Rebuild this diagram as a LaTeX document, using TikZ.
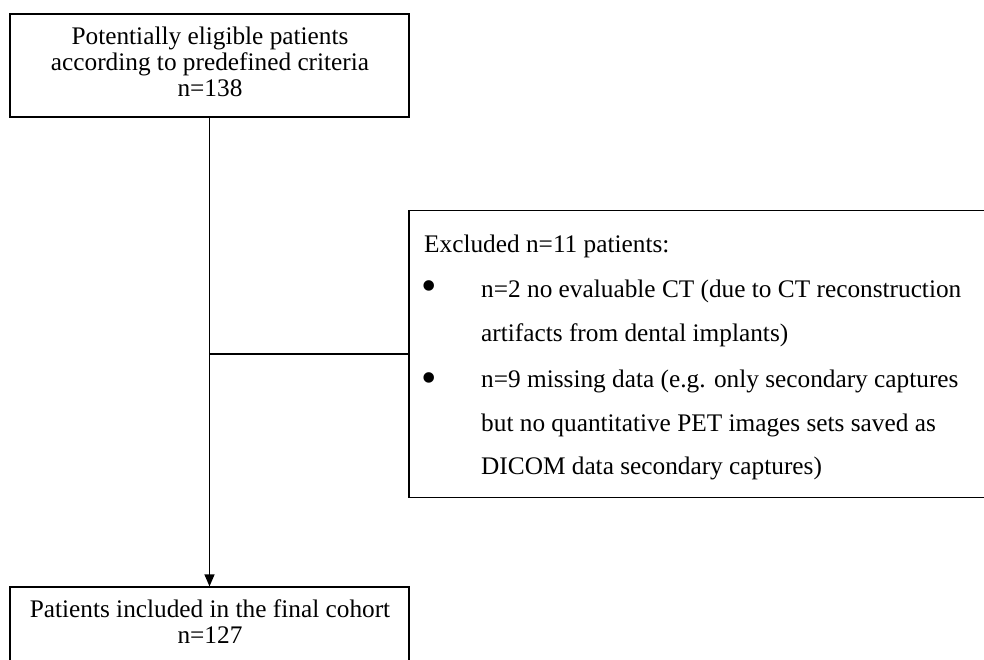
\documentclass[tikz,border=0pt]{standalone}
\usepackage{fontspec}
\setmainfont{Liberation Serif}
\usetikzlibrary{arrows.meta}
\tikzset{
  box/.style={draw=black, line width=1.2pt, fill=none, inner sep=0pt},
  txt/.style={inner sep=0pt, font=\fontsize{25.3}{30}\selectfont},
  dot/.style={inner sep=0pt, font=\fontsize{44}{44}\selectfont},
  conn/.style={draw=black, line width=1.2pt},
}
\begin{document}
\begin{tikzpicture}[x=1pt,y=-1pt]
\useasboundingbox (0,0) rectangle (984,660);
% boxes
\node[box, minimum width=399pt, minimum height=103pt] (top) at (209.5,65.5) {};
\node[box, minimum width=581pt, minimum height=287pt] (excl) at (699.5,354) {};
\node[box, minimum width=399pt, minimum height=83pt] (bot) at (209.5,628.5) {};
% top text
\node[txt, anchor=base] (t1) at (210,45) {Potentially eligible patients};
\node[txt, anchor=base] (t2) at (210,71) {according to predefined criteria};
\node[txt, anchor=base] (t3) at (210,97) {n=138};
% bottom text
\node[txt, anchor=base] (b1) at (210,617) {Patients included in the final cohort};
\node[txt, anchor=base] (b2) at (210,643) {n=127};
% excluded text
\node[txt, anchor=base west] (e0) at (424,252) {Excluded n=11 patients:};
\node[dot, anchor=center] (bu1) at (429,291) {\textbullet};
\node[txt, anchor=base west] (e1) at (481,297) {n=2 no evaluable CT (due to CT reconstruction};
\node[txt, anchor=base west] (e2) at (481,341) {artifacts from dental implants)};
\node[dot, anchor=center] (bu2) at (429,382.5) {\textbullet};
\node[txt, anchor=base west] (e3) at (481,387) {n=9 missing data (e.g. only secondary captures};
\node[txt, anchor=base west] (e4) at (481,431) {but no quantitative PET images sets saved as};
\node[txt, anchor=base west] (e5) at (481,474) {DICOM data secondary captures)};
% connectors
\draw[conn, -{Triangle[length=12pt,width=10pt]}] (top.south) -- (bot.north);
\coordinate (split) at (top.south |- excl.west);
\draw[conn] (split) -- (excl.west);
\end{tikzpicture}
\end{document}
